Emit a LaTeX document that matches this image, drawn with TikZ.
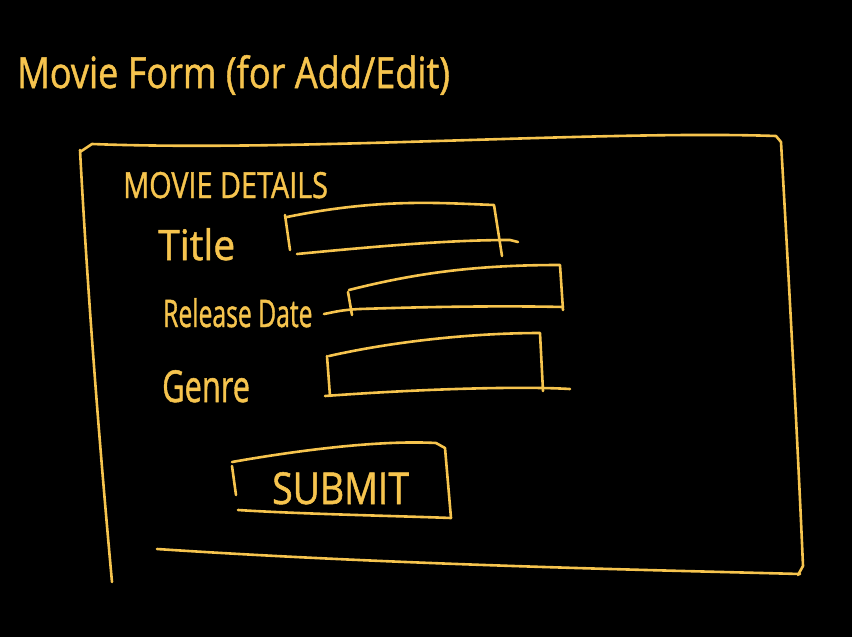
\documentclass[tikz,border=0pt]{standalone}
\usepackage{fontspec}
\setmainfont{Open Sans}[FakeBold=1.2]
\definecolor{ink}{RGB}{246,196,78}
\newcommand{\hw}[3]{\fontsize{#1}{#1}\selectfont\scalebox{#2}[1]{#3}}
\begin{document}
\begin{tikzpicture}[x=1pt,y=-1pt,
  pen/.style={draw=ink,line width=2.6pt,line cap=round,line join=round},
  hand/.style={text=ink,inner sep=0pt,anchor=base west}]
\fill[black] (0,0) rectangle (852,637);
\useasboundingbox (0,0) rectangle (852,637);
% title
\node[hand] (title) at (17,88) {\hw{43}{0.84}{Movie Form (for Add/Edit)}};
% outer frame
\draw[pen] (80,150) .. controls (88,300) and (100,450) .. (112,582);
\draw[pen] (80,152) -- (92,144) .. controls (300,152) and (600,130) .. (776,136) -- (781,142)
  .. controls (790,300) and (798,450) .. (803,566) -- (798,575);
\draw[pen] (157,549) .. controls (400,565) and (650,570) .. (800,574);
% section header and labels
\node[hand] (hdr) at (123,198) {\hw{36}{0.8}{MOVIE DETAILS}};
\node[hand] (ltitle) at (158,260) {\hw{42}{0.93}{Title}};
\node[hand] (lrel) at (163,327) {\hw{38}{0.65}{Release Date}};
\node[hand] (lgen) at (162,402) {\hw{44}{0.7}{Genre}};
% Title box
\draw[pen] (285,215) -- (290,250);
\draw[pen] (287,217) .. controls (380,198) and (440,203) .. (494,205) -- (502,256);
\draw[pen] (297,254) .. controls (380,246) and (450,240) .. (510,240) -- (518,242);
% Release Date box
\draw[pen] (348,292) -- (352,315);
\draw[pen] (349,290) .. controls (420,272) and (480,265) .. (560,265) -- (563,310);
\draw[pen] (324,314) .. controls (335,312) and (340,310) .. (360,309) .. controls (450,306) and (520,306) .. (563,307);
% Genre box
\draw[pen] (327,356) -- (330,396);
\draw[pen] (329,356) .. controls (400,340) and (480,333) .. (540,333) -- (543,391);
\draw[pen] (325,396) .. controls (420,389) and (520,386) .. (570,389);
% Submit button
\draw[pen] (232,466) -- (236,495);
\draw[pen] (232,462) .. controls (300,450) and (380,440) .. (436,443) -- (445,448) -- (451,518);
\draw[pen] (238,510) .. controls (300,514) and (400,516) .. (451,518);
\node[hand] (submit) at (272,504) {\hw{44}{0.85}{SUBMIT}};
\end{tikzpicture}
\end{document}
